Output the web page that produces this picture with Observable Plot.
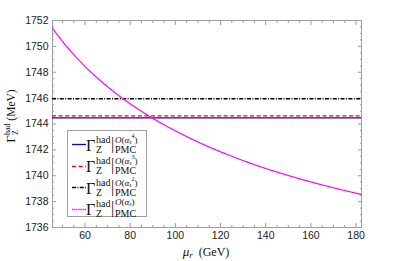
<!DOCTYPE html>
<html>
<head>
<meta charset="utf-8">
<script src="https://cdn.jsdelivr.net/npm/d3@7"></script>
<script src="https://cdn.jsdelivr.net/npm/@observablehq/plot@0.6"></script>
<style>
  html, body { margin: 0; padding: 0; background: #fff; }
  #wrap { position: relative; width: 399px; height: 261px; }
  .serif { font-family: "Liberation Serif", "DejaVu Serif", serif; color: #111; }
  #legend { position: absolute; left: 67px; top: 130px; width: 80px; height: 87px;
            background: #fff; border: 1px solid #a0a0a0; box-sizing: border-box; }
  .row { position: absolute; left: 0; width: 79px; height: 21.6px; }
  .row > * { position: absolute; white-space: nowrap; line-height: 1; }
  .ylab { position: absolute; left: 10px; top: 116px; transform: translate(-50%, -50%) rotate(-90deg); white-space: nowrap; }
  .xlab { position: absolute; left: 206px; top: 251px; transform: translate(-50%, -50%); white-space: nowrap; line-height: 1; }
</style>
</head>
<body>
<div id="wrap"></div>
<script>
// ---- data ----
const muMin = 45.6, muMax = 182.4;
const curveMu   = [45.6, 50, 55, 60, 65, 70, 75, 80, 85, 90, 100, 110, 120, 130, 140, 150, 160, 170, 182.4];
const curveVal  = [1751.40, 1750.39, 1749.37, 1748.45, 1747.63, 1746.88, 1746.19, 1745.56, 1744.98, 1744.44,
                   1743.47, 1742.61, 1741.85, 1741.17, 1740.56, 1740.02, 1739.52, 1739.07, 1738.55];
const levelNames  = ["O4", "O3", "O2"];
const levelValues = [1744.47, 1744.63, 1745.95];
const seriesColors = {O4: "#0000ff", O3: "#ff0000", O2: "#000000", O1: "#ff00ff"};
const seriesDash   = {O4: null, O3: "4,2.6", O2: "4,1.4,1,1.4", O1: "1.4,0.7"};
const seriesOrder  = ["O4", "O3", "O2", "O1"];
const seriesSup    = {O4: "4", O3: "3", O2: "2", O1: ""};
const xMajor = [60, 80, 100, 120, 140, 160, 180];
const xMinor = [50, 55, 65, 70, 75, 85, 90, 95, 105, 110, 115, 125, 130, 135, 145, 150, 155, 165, 170, 175];
const yMajor = [1736, 1738, 1740, 1742, 1744, 1746, 1748, 1750, 1752];
const yMinor = [1736.5, 1737, 1737.5, 1738.5, 1739, 1739.5, 1740.5, 1741, 1741.5, 1742.5, 1743, 1743.5,
                1744.5, 1745, 1745.5, 1746.5, 1747, 1747.5, 1748.5, 1749, 1749.5, 1750.5, 1751, 1751.5];

const curveData = curveMu.map((m, i) => ({mu: m, v: curveVal[i]}));
const levels = levelNames.map((n, i) => ({name: n, v: levelValues[i]}));

const tickStroke = "#9a9a9a";
const chart = Plot.plot({
  width: 399, height: 261,
  marginLeft: 52, marginRight: 38, marginTop: 20, marginBottom: 34,
  style: {fontFamily: "'Liberation Sans', Arial, sans-serif", fontSize: "10.5px", color: "#222", background: "#fff"},
  x: {domain: [muMin, muMax]},
  y: {domain: [1736, 1752]},
  marks: [
    Plot.axisX({anchor: "bottom", ticks: xMajor, tickSize: -4, tickPadding: 8, stroke: tickStroke, fill: "#222", label: null, tickFormat: d => String(d)}),
    Plot.axisX({anchor: "bottom", ticks: xMinor, tickSize: -2, text: null, stroke: tickStroke, label: null}),
    Plot.axisX({anchor: "top", ticks: xMajor, tickSize: -4, text: null, stroke: tickStroke, label: null}),
    Plot.axisX({anchor: "top", ticks: xMinor, tickSize: -2, text: null, stroke: tickStroke, label: null}),
    Plot.axisY({anchor: "left", ticks: yMajor, tickSize: -4, tickPadding: 8, stroke: tickStroke, fill: "#222", label: null, tickFormat: d => String(d)}),
    Plot.axisY({anchor: "left", ticks: yMinor, tickSize: -2, text: null, stroke: tickStroke, label: null}),
    Plot.axisY({anchor: "right", ticks: yMajor, tickSize: -4, text: null, stroke: tickStroke, label: null}),
    Plot.axisY({anchor: "right", ticks: yMinor, tickSize: -2, text: null, stroke: tickStroke, label: null}),
    Plot.frame({stroke: "#a0a0a0"}),
    ...levels.map(l => Plot.ruleY([l.v], {stroke: seriesColors[l.name], strokeWidth: 1.3, strokeDasharray: seriesDash[l.name]})),
    Plot.line(curveData, {x: "mu", y: "v", curve: "monotone-x", stroke: seriesColors.O1, strokeWidth: 1.2, strokeDasharray: seriesDash.O1})
  ]
});
const wrap = document.getElementById("wrap");
wrap.appendChild(chart);

// axis labels (math text)
const ylab = document.createElement("div");
ylab.className = "ylab serif";
ylab.innerHTML = `<span style="font-size:13px">Γ</span><span style="display:inline-block;vertical-align:-3px;line-height:0.95;font-size:8px;text-align:left"><span style="display:block">had</span><span style="display:block">Z</span></span><span style="font-size:11.5px"> (MeV)</span>`;
wrap.appendChild(ylab);
const xlab = document.createElement("div");
xlab.className = "xlab serif";
xlab.innerHTML = `<span style="font-size:13px;font-style:italic">μ</span><span style="font-size:9px;font-style:italic;vertical-align:-2px">r</span><span style="font-size:12px">&nbsp;&nbsp;(GeV)</span>`;
wrap.appendChild(xlab);

// legend
const legend = document.createElement("div");
legend.id = "legend";
legend.className = "serif";
seriesOrder.forEach((k, i) => {
  const row = document.createElement("div");
  row.className = "row";
  row.style.top = (2.5 + i * 21.6) + "px";
  const dash = seriesDash[k] ? `stroke-dasharray="${seriesDash[k]}"` : "";
  const sup = seriesSup[k] ? `<sup style="font-size:6px;position:relative;top:-1px">${seriesSup[k]}</sup>` : "";
  row.innerHTML =
    `<svg style="left:4px;top:9.5px" width="14" height="3"><line x1="0" x2="14" y1="1.5" y2="1.5" stroke="${seriesColors[k]}" stroke-width="1.3" ${dash}/></svg>` +
    `<span style="left:18px;top:4px;font-size:16px">Γ</span>` +
    `<span style="left:28px;top:1px;font-size:10px">had</span>` +
    `<span style="left:28px;top:11px;font-size:10px">Z</span>` +
    `<span style="left:43px;top:2px;font-size:16px">|</span>` +
    `<span style="left:47px;top:0px;font-size:9px"><i>O</i>(<i>α</i><sub style="font-size:6px;vertical-align:-1px"><i>s</i></sub>${sup})</span>` +
    `<span style="left:47px;top:11px;font-size:10px">PMC</span>`;
  legend.appendChild(row);
});
wrap.appendChild(legend);
</script>
</body>
</html>
